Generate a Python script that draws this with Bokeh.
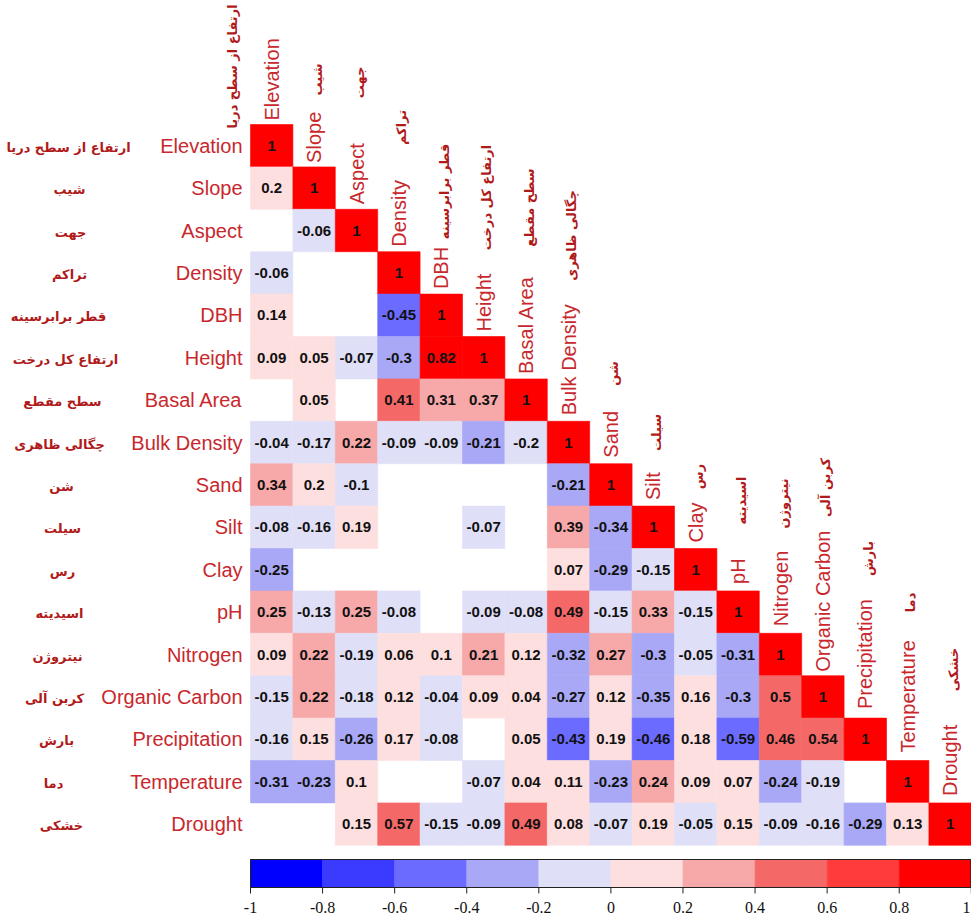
import numpy as np
from bokeh.plotting import figure
from bokeh.models import Range1d, ColumnDataSource, LinearColorMapper
from bokeh.transform import transform
from bokeh.core.properties import value
from bokeh.embed import file_html
from bokeh.resources import INLINE

# ---------------- data ----------------
names_en = ["Elevation", "Slope", "Aspect", "Density", "DBH", "Height", "Basal Area",
            "Bulk Density", "Sand", "Silt", "Clay", "pH", "Nitrogen", "Organic Carbon",
            "Precipitation", "Temperature", "Drought"]
names_fa = ["ارتفاع از سطح دریا", "شیب", "جهت", "تراکم", "قطر برابرسینه", "ارتفاع کل درخت",
            "سطح مقطع", "چگالی ظاهری", "شن", "سیلت", "رس", "اسیدیته", "نیتروژن", "کربن آلی",
            "بارش", "دما", "خشکی"]

# lower triangle (row i, columns 0..i-1); None = not shown
r_slope = [0.2]
r_aspect = [None, -0.06]
r_density = [-0.06, None, None]
r_dbh = [0.14, None, None, -0.45]
r_height = [0.09, 0.05, -0.07, -0.3, 0.82]
r_basal = [None, 0.05, None, 0.41, 0.31, 0.37]
r_bulk = [-0.04, -0.17, 0.22, -0.09, -0.09, -0.21, -0.2]
r_sand = [0.34, 0.198, -0.1, None, None, None, None, -0.21]
r_silt = [-0.08, -0.16, 0.19, None, None, -0.07, None, 0.39, -0.34]
r_clay = [-0.25, None, None, None, None, None, None, 0.07, -0.29, -0.15]
r_ph = [0.25, -0.13, 0.25, -0.08, None, -0.09, -0.08, 0.49, -0.15, 0.33, -0.15]
r_nitrogen = [0.09, 0.22, -0.19, 0.06, 0.1, 0.21, 0.12, -0.32, 0.27, -0.3, -0.05, -0.31]
r_oc = [-0.15, 0.22, -0.18, 0.12, -0.04, 0.09, 0.04, -0.27, 0.12, -0.35, 0.16, -0.3, 0.5]
r_precip = [-0.16, 0.15, -0.26, 0.17, -0.08, None, 0.05, -0.43, 0.19, -0.46, 0.18, -0.59, 0.46, 0.54]
r_temp = [-0.31, -0.23, 0.1, None, None, -0.07, 0.04, 0.11, -0.23, 0.24, 0.09, 0.07, -0.24, -0.19, None]
r_drought = [None, None, 0.15, 0.57, -0.15, -0.09, 0.49, 0.08, -0.07, 0.19, -0.05, 0.15, -0.09, -0.16, -0.29, 0.13]
diag_value = 1

lower_rows = [[], r_slope, r_aspect, r_density, r_dbh, r_height, r_basal, r_bulk, r_sand,
              r_silt, r_clay, r_ph, r_nitrogen, r_oc, r_precip, r_temp, r_drought]

cb_ticks = [-1, -0.8, -0.6, -0.4, -0.2, 0, 0.2, 0.4, 0.6, 0.8, 1]
cb_tick_labels = ["-1", "-0.8", "-0.6", "-0.4", "-0.2", "0", "0.2", "0.4", "0.6", "0.8", "1"]

palette = ["#0000FF", "#3B3BFF", "#6B6BFF", "#A8A8F6", "#DFDFF7",
           "#FDDFDF", "#F7A8A8", "#F46868", "#FF3B3B", "#FF0000"]

# ---------------- layout ----------------
W, H = 971, 918
CS = 42.4          # cell size px
X0, Y0 = 250, 124  # top-left of grid in px
N = len(names_en)

def dx(px):
    return (px - X0) / CS

def dy(px):
    return (px - Y0) / CS

# persian column label centre y (px) and row label centre x (px)
fa_col_cy = [66, 79, 82, 127, 191, 197, 207, 235, 373, 432, 476, 500, 503, 487, 558, 602, 669]
fa_row_cx = [68, 69, 70, 69, 58, 65, 62, 59, 61, 62, 62, 59, 57, 54, 56, 53, 61]
en_col_gap = [4, 4, 5, 5, 5, 5, 5, 6, 6, 6, 6, 7, 7, 4, 9, 8, 7]

EN_COLOR = "#C8282D"
FA_COLOR = "#B01A1A"
EN_FONT = value("Liberation Sans")
FA_FONT = value("DejaVu Sans")

p = figure(width=W, height=H,
           x_range=Range1d(dx(0), dx(W)), y_range=Range1d(dy(H), dy(0)),
           x_axis_location=None, y_axis_location=None,
           output_backend="svg", toolbar_location=None, min_border=0)
p.grid.visible = False
p.outline_line_color = None
p.background_fill_color = "white"
p.border_fill_color = "white"

mapper = LinearColorMapper(palette=palette, low=-1, high=1)

def fmt(v):
    return f"{v:.2f}".rstrip("0").rstrip(".")

xs, ys, rs, labels = [], [], [], []
for i in range(N):
    for j, v in enumerate(lower_rows[i]):
        if v is None:
            continue
        xs.append(j + 0.5); ys.append(i + 0.5); rs.append(v); labels.append(fmt(v))
    xs.append(i + 0.5); ys.append(i + 0.5); rs.append(diag_value); labels.append(fmt(diag_value))

src = ColumnDataSource(dict(x=xs, y=ys, r=rs, label=labels))
p.rect("x", "y", width=1, height=1, source=src,
       fill_color=transform("r", mapper), line_color=transform("r", mapper), line_width=0.6)
p.text("x", "y", text="label", source=src, text_align="center", text_baseline="middle",
       text_font=value("Liberation Sans"), text_font_style="bold", text_font_size="15px",
       text_color="#111111")

# row labels
p.text(x=[dx(242)] * N, y=[i + 0.5 for i in range(N)], text=names_en,
       text_align="right", text_baseline="middle", text_font=EN_FONT,
       text_font_size="20px", text_color=EN_COLOR)
p.text(x=[dx(c) for c in fa_row_cx], y=[i + 0.5 + 0.04 for i in range(N)], text=names_fa,
       text_align="center", text_baseline="middle", text_font=FA_FONT,
       text_font_style="bold", text_font_size="13px", text_color=FA_COLOR)

# column labels (rotated)
p.text(x=[j + 0.5 for j in range(N)], y=[j - en_col_gap[j] / CS for j in range(N)], text=names_en,
       angle=np.pi / 2, text_align="left", text_baseline="middle", text_font=EN_FONT,
       text_font_size="20px", text_color=EN_COLOR)
fa_cx = [dx(232)] + [j + 0.5 + 3 / CS for j in range(1, N)]
p.text(x=fa_cx, y=[dy(c) for c in fa_col_cy], text=names_fa,
       angle=np.pi / 2, text_align="center", text_baseline="middle", text_font=FA_FONT,
       text_font_style="bold", text_font_size="13px", text_color=FA_COLOR)

# colour bar
CB_TOP, CB_BOT = 859, 887
span = float(N)
def cbx(v):
    return (v - cb_ticks[0]) / (cb_ticks[-1] - cb_ticks[0]) * span

lefts = cb_ticks[:-1]
rights = cb_ticks[1:]
mids = [(a + b) / 2 for a, b in zip(lefts, rights)]
cb_src = ColumnDataSource(dict(l=[cbx(a) for a in lefts], r_=[cbx(b) for b in rights], v=mids))
p.quad(left="l", right="r_", top=dy(CB_TOP), bottom=dy(CB_BOT), source=cb_src,
       fill_color=transform("v", mapper), line_color=transform("v", mapper), line_width=0.5)
p.quad(left=cbx(cb_ticks[0]), right=cbx(cb_ticks[-1]) - 0.5 / CS, top=dy(CB_TOP), bottom=dy(CB_BOT),
       fill_color=None, line_color="#222222", line_width=1)
p.segment(x0=[cbx(t) for t in cb_ticks], x1=[cbx(t) for t in cb_ticks],
          y0=[dy(CB_BOT)] * len(cb_ticks), y1=[dy(CB_BOT + 6)] * len(cb_ticks),
          line_color="#222222", line_width=1)
tick_x = [cbx(t) for t in cb_ticks]
tick_x[-1] = min(tick_x[-1], dx(W - 1))
tick_align = ["center"] * (len(cb_ticks) - 1) + ["right"]
tsrc = ColumnDataSource(dict(x=tick_x, t=cb_tick_labels, a=tick_align))
p.text(x="x", y=dy(907), text="t", text_align="a", source=tsrc,
       text_baseline="middle", text_font=value("Liberation Sans Narrow"),
       text_font_size="16px", text_color="#111111")

open("out.html", "w").write(file_html(p, INLINE))
